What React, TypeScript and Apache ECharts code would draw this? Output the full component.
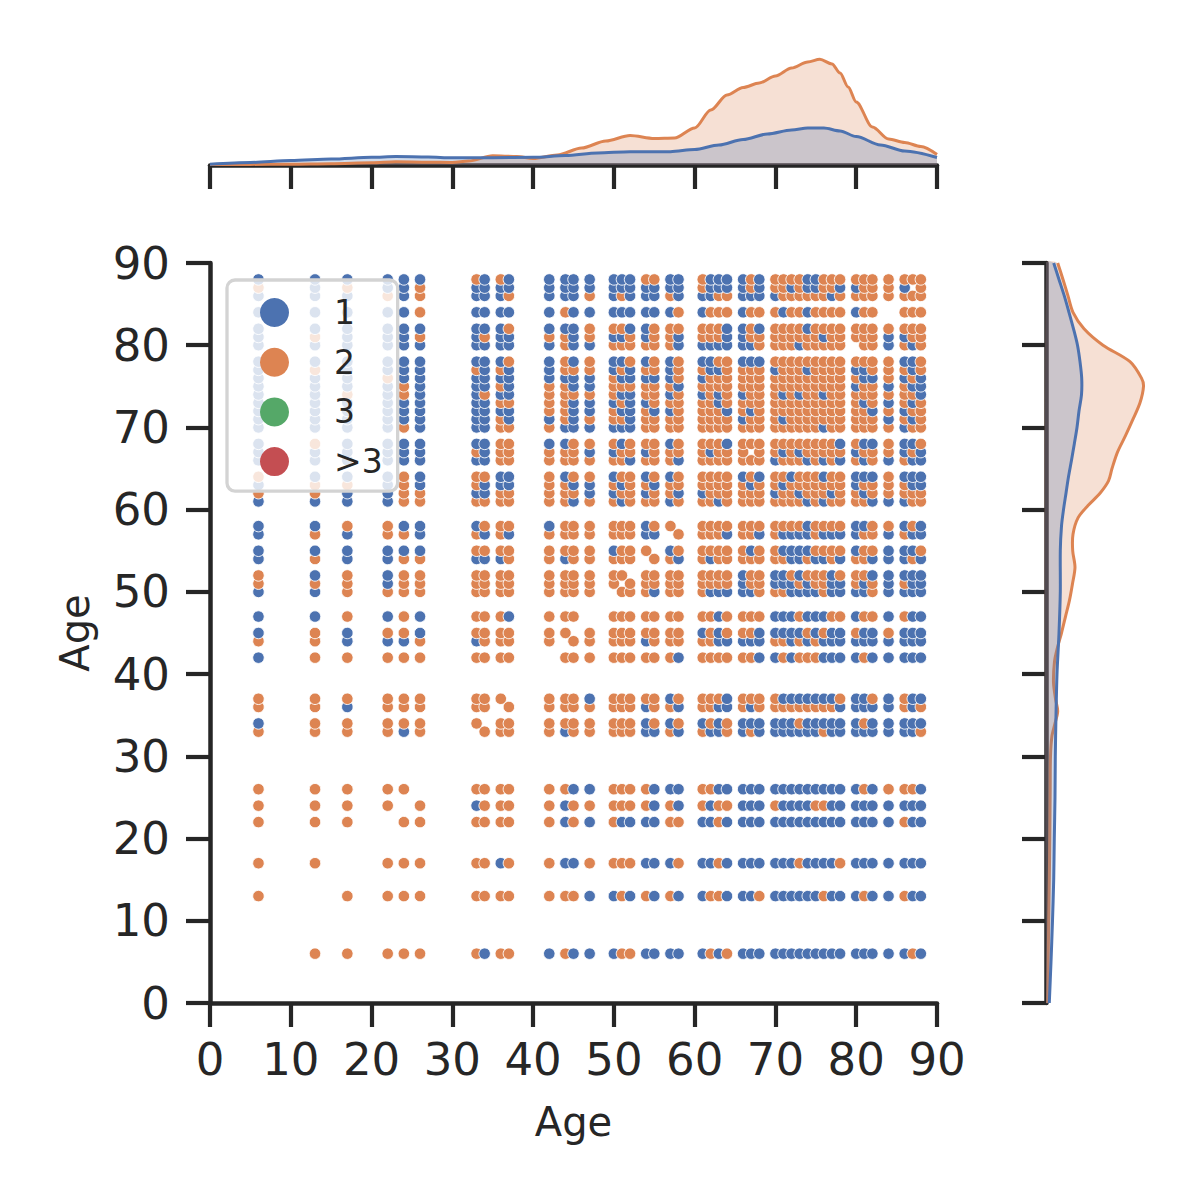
import React, { useEffect, useRef } from "react";
import * as echarts from "echarts";

// ---- data ----
const AGES = [6, 13, 17, 22, 24, 26, 33, 34, 36, 37, 42, 44, 45, 47, 50, 51, 52, 54, 55, 57, 58, 61, 62, 63, 64, 66, 67, 68, 70, 71, 72, 73, 74, 75, 76, 77, 78, 80, 81, 82, 84, 86, 87, 88];
const ROW_AGES_TOP_DOWN = [88, 87, 86, 84, 82, 81, 80, 78, 77, 76, 75, 74, 73, 72, 71, 70, 68, 67, 66, 64, 63, 62, 61, 58, 57, 55, 54, 52, 51, 50, 47, 45, 44, 42, 37, 36, 34, 33, 26, 24, 22, 17, 13, 6];
// one char per column of AGES: b = "1", o = "2", . = no point (spaces ignored)
const HUE_ROWS = [
  "bbbbbb obob bbbb bbboobb obbb bob oooobbooo ooo o ooo",
  "obobbo bbbb bbbb bbbbbbb obbb bob oobobboob boo o b.o",
  "bbbobo bbbo bbbo bobbbob bboo bbb boooooobo ooo o ooo",
  "bbbbbo bbbb bobb bbbbbbo booo boo obooboooo boo . ooo",
  "bbbbbb bbbo bbbo oobbooo ooob bob ooooboooo ooo o ooo",
  "bobbbo bobb oobo bboboob ooob boo ooooooboo ooo b boo",
  "bbbbbb bbbb bobb oooooob bbbb bbo ooobooooo .oo b obo",
  "bbbbbb bbbo bobo bbobobo bboo bbb ooooooooo ooo o bbo",
  "bobbbb obob booo boboobo obbo ooo boooboooo bbo o obo",
  "bbbobb bbbb bbbb obbbbbo booo ooo ooooooooo obb o bob",
  "bbbbob bbob oobb oooooob oooo ooo ooooooooo boo b obb",
  "bbobob bobb oooo obboobo bobo boo obobooboo ooo o oob",
  "bbbbbb bboo oobb bobbooo oobo ooo ooooooooo obo b obo",
  "bbbbbb bbbb oobb obbobbo ooob obo ooooooooo oob o boo",
  "bbbbbb bbob bobo ooboooo oooo boo obooooooo ooo b obo",
  "bbbbob bboo obbb bbboooo oooo ooo ooooooboo ooo o boo",
  "bobbbb bboo bboo obooobo ooob ooo oooooooob obb o bbo",
  "bbbbbb oboo ooob boobooo oboo o.o obobooooo boo o bob",
  "bbbbbb bboo oooo oobooob oooo ooo booobobob obo b obb",
  "obbbob oobb oboo boobobo oooo bob ooboooboo bbb o bbb",
  "boobob obbb oobb obooboo oooo obo obooooooo boo o obb",
  "oobboo bboo ooob booboob booo ooo boobooobo obo o ooo",
  "bbbboo oooo oobo obooobo oobo ooo ooooboboo oob b boo",
  "bboobb booo booo ooob oo. oooo ooo oooo b oooo bbo o bob",
  "bobo ob obob oooo ooo bb . o ooob oob o bbbb o bbb boo b obb",
  "bbbbbb oooo oooo b ooo . b o oooo obo o bbbb oooo boo b bbo",
  "bobboo bbbo oboo ooo . oo b oboo ooo oo bb o bb o b oob b bob",
  "oboboo oooo oooo oo . oooo oooo boo bb o b ooo b o oob b bbb",
  "ooo b oo oooo oooo o . ooooo oooo boo bbb o b oo bb obo b obb",
  "bb oooo oooo oooo . ooo b oo obbb bbo oo bbbb o bb bbo b bbb",
  "bbobob ooob ooo . ooooooo oobo ooo bbb o bbb oo boo b obb",
  "bobo ob oooo oo . o ooooooo bobo oob bbbb o b o bb obb o bbb",
  "oo bbb o booo o . oo ooo b ooo oobb bbb oo b o b o bbb bbb b bbb",
  "b ooooo oooo . ooo oooooo b oooo oob b o b ooo bbb bob b bbb",
  "oooooo ooo . ooob ooooo b o ooob ooo o bbbbbbb o bbo b obb",
  "oo b ooo oo . o oooo ooo b oo b oobb obo oooooooo b bbb b obo",
  "b ooooo o . oo oooo ooo b o b o bobo bbb bbb o bbbbb bob b bbb",
  "oooo b o . ooo ob oo ooo bb o b obbo bob bbbbbb o bb bbb b bbo",
  "ooooo . oooo oobb oooo bbb oobb bbb bbbbbbbbb bob o oob",
  "oooo . o booo obo o oooo b o b oboo bbb o bbbb oo bb bbb b bbb",
  "ooo . oo oooo obob o bbbb oo bbob bbb bbbbbbbbb bbb b obb",
  "oo . ooo oobo obbo ooo bbb o bbob bbb bbb o bbbb o bbb b bbb",
  "o . oooo oooo ooob bobobob boob bbo bbbbbb o bb bob b obb",
  ". ooooo o b o o b o b b b oo bbbb b o b o bbb bbbbbbbbb bbb b b o b",
];

const LEGEND_NAMES = ["1", "2", "3", ">3"];
const HUE_COLORS = ["#4c72b0", "#dd8452", "#55a868", "#c44e52"];

// marginal densities (arbitrary scale)
const TOP_ORANGE_X = [0, 5, 10, 15, 20, 23, 27, 30, 32, 35, 38, 40, 43, 46, 49, 52, 55, 57.5, 60, 62, 64, 66, 68, 70, 72, 74, 75.5, 77, 78, 79, 80, 82, 84, 86, 88, 90];
const TOP_ORANGE = [0.5, 0.6, 0.8, 1.3, 2.2, 3.2, 2.8, 2.5, 4, 9.2, 8.5, 6.5, 10, 17, 24, 29.5, 26.5, 27, 37, 55, 70, 77.5, 82, 89, 97, 103, 105.7, 101, 92, 78, 63, 38, 26, 22.5, 18.5, 10.5];
const TOP_BLUE_X = [0, 5, 10, 15, 20, 23, 27, 30, 35, 40, 44, 48, 52, 57, 60, 63, 66, 69, 72, 74, 76, 78, 80, 83, 86, 90];
const TOP_BLUE = [0.8, 2.5, 4.4, 6, 7.7, 8.4, 8, 7.2, 7.3, 7.7, 9.5, 12, 13.3, 13.3, 15.5, 20, 25.5, 31, 35, 37, 37, 34, 28.5, 20, 14, 7.5];

const RIGHT_ORANGE_Y = [0, 5, 10, 15, 20, 26, 30, 32.5, 34, 35.5, 37, 39, 41.5, 43, 45, 47, 49, 51, 53, 55, 57, 59, 60.5, 62, 63.5, 65, 67, 69, 71, 73, 75, 76, 78, 80, 82, 84, 86, 88, 90];
const RIGHT_ORANGE = [1.7, 2.2, 2.7, 3.3, 3.8, 4.2, 4.5, 6, 9, 11.7, 9.5, 7.5, 8.5, 11, 15.5, 19.5, 23.5, 26.5, 29, 26.7, 27, 32, 42, 54, 62.5, 66, 71.5, 79.5, 87, 94, 97.5, 95.5, 84, 57, 38, 27, 22, 17, 11.7];
const RIGHT_BLUE_Y = [0, 5, 10, 15, 20, 25, 30, 35, 40, 45, 50, 55, 58, 60, 62, 64, 66, 68, 70, 72, 74, 76, 78, 80, 82, 84, 86, 88, 90];
const RIGHT_BLUE = [3.3, 5, 6.5, 7.7, 8.3, 9, 9.3, 10, 11, 13, 14.3, 14.3, 15.5, 17.5, 20, 22.5, 25.5, 28.3, 31, 33, 35.5, 35.7, 34, 31.5, 27.5, 23, 18.3, 13, 7.7];

const INK = "#262626";
const FONT = "DejaVu Sans";

function buildScatter() {
  const rows = HUE_ROWS.map((r, i) => ({ y: ROW_AGES_TOP_DOWN[i], cells: r.replace(/\s+/g, "") }));
  rows.sort((a, b) => a.y - b.y);
  const out: any[] = [];
  rows.forEach((row) => {
    AGES.forEach((x, j) => {
      const c = row.cells[j];
      if (c === "b" || c === "o") {
        out.push({ value: [x, row.y], itemStyle: { color: c === "b" ? HUE_COLORS[0] : HUE_COLORS[1] } });
      }
    });
  });
  return out;
}

function rightArea(ys: number[], ws: number[], color: string, fill: string) {
  return {
    type: "custom",
    xAxisIndex: 2,
    yAxisIndex: 2,
    silent: true,
    data: [[0, 0]],
    renderItem: (params: any, api: any) => {
      if (params.dataIndex !== 0) return null;
      const curve = ys.map((y, i) => api.coord([ws[i], y]));
      const b0 = api.coord([0, ys[0]]);
      const b1 = api.coord([0, ys[ys.length - 1]]);
      return {
        type: "group",
        children: [
          { type: "polygon", shape: { points: [b0, ...curve, b1], smooth: 0.3 }, style: { fill } },
          { type: "polyline", shape: { points: curve, smooth: 0.3 }, style: { stroke: color, lineWidth: 3, fill: null } },
        ],
      };
    },
  };
}

export default function App() {
  const ref = useRef<HTMLDivElement>(null);
  useEffect(() => {
    document.body.style.margin = "0";
    if (!ref.current) return;
    const chart = echarts.init(ref.current, undefined, { renderer: "svg" });
    const axisLine = { show: true, onZero: false, lineStyle: { color: INK, width: 4.5 } };
    const axisTick = { show: true, inside: false, length: 24, lineStyle: { color: INK, width: 4.2 } };
    const option: any = {
      animation: false,
      backgroundColor: "#ffffff",
      textStyle: { fontFamily: FONT, color: INK },
      grid: [
        { left: 210, top: 263, width: 727, height: 740 },
        { left: 210, top: 50, width: 727, height: 115 },
        { left: 1046, top: 263, width: 115, height: 740 },
      ],
      xAxis: [
        {
          gridIndex: 0, type: "value", min: 0, max: 90, interval: 10,
          axisLine, axisTick, splitLine: { show: false },
          axisLabel: { fontSize: 45, color: INK, fontFamily: FONT, margin: 34 },
          name: "Age", nameLocation: "middle", nameGap: 99,
          nameTextStyle: { fontSize: 40, color: INK, fontFamily: FONT },
        },
        {
          gridIndex: 1, type: "value", min: 0, max: 90, interval: 10,
          axisLine, axisTick, splitLine: { show: false }, axisLabel: { show: false },
        },
        { gridIndex: 2, type: "value", min: 0, max: 115, show: false },
      ],
      yAxis: [
        {
          gridIndex: 0, type: "value", min: 0, max: 90, interval: 10,
          axisLine, axisTick, splitLine: { show: false },
          axisLabel: { fontSize: 45, color: INK, fontFamily: FONT, margin: 40 },
          name: "Age", nameLocation: "middle", nameGap: 115,
          nameTextStyle: { fontSize: 40, color: INK, fontFamily: FONT },
        },
        { gridIndex: 1, type: "value", min: 0, max: 115, show: false },
        {
          gridIndex: 2, type: "value", min: 0, max: 90, interval: 10,
          axisLine, axisTick, splitLine: { show: false }, axisLabel: { show: false },
        },
      ],
      legend: {
        data: LEGEND_NAMES,
        orient: "vertical",
        left: 227,
        top: 280,
        icon: "circle",
        itemWidth: 29,
        itemHeight: 29,
        itemGap: 16.7,
        padding: [16, 15, 13, 33],
        backgroundColor: "rgba(255,255,255,0.8)",
        borderColor: "#d3d3d3",
        borderWidth: 3.3,
        borderRadius: 8,
        selectedMode: false,
        itemStyle: { opacity: 1 },
        textStyle: { fontSize: 33, color: INK, fontFamily: FONT, padding: [0, 0, 0, 40] },
      },
      series: [
        {
          name: "points", type: "scatter", xAxisIndex: 0, yAxisIndex: 0,
          symbol: "circle", symbolSize: 11.5, large: false, progressive: 0,
          itemStyle: { borderColor: "#ffffff", borderWidth: 0.9, opacity: 1 },
          emphasis: { disabled: true },
          data: buildScatter(),
        },
        ...LEGEND_NAMES.map((n, i) => ({
          name: n, type: "scatter", xAxisIndex: 0, yAxisIndex: 0, data: [],
          itemStyle: { color: HUE_COLORS[i], opacity: 1 },
        })),
        {
          type: "line", xAxisIndex: 1, yAxisIndex: 1, smooth: 0.3, smoothMonotone: "x",
          showSymbol: false, symbol: "none", silent: true,
          lineStyle: { color: HUE_COLORS[1], width: 3 },
          areaStyle: { color: HUE_COLORS[1], opacity: 0.25 },
          data: TOP_ORANGE_X.map((x, i) => [x, TOP_ORANGE[i]]),
        },
        {
          type: "line", xAxisIndex: 1, yAxisIndex: 1, smooth: 0.3, smoothMonotone: "x",
          showSymbol: false, symbol: "none", silent: true,
          lineStyle: { color: HUE_COLORS[0], width: 3 },
          areaStyle: { color: HUE_COLORS[0], opacity: 0.25 },
          data: TOP_BLUE_X.map((x, i) => [x, TOP_BLUE[i]]),
        },
        rightArea(RIGHT_ORANGE_Y, RIGHT_ORANGE, HUE_COLORS[1], "rgba(221,132,82,0.25)"),
        rightArea(RIGHT_BLUE_Y, RIGHT_BLUE, HUE_COLORS[0], "rgba(76,114,176,0.25)"),
      ],
    };
    chart.setOption(option);
    return () => chart.dispose();
  }, []);
  return <div ref={ref} style={{ width: 1200, height: 1200 }} />;
}
